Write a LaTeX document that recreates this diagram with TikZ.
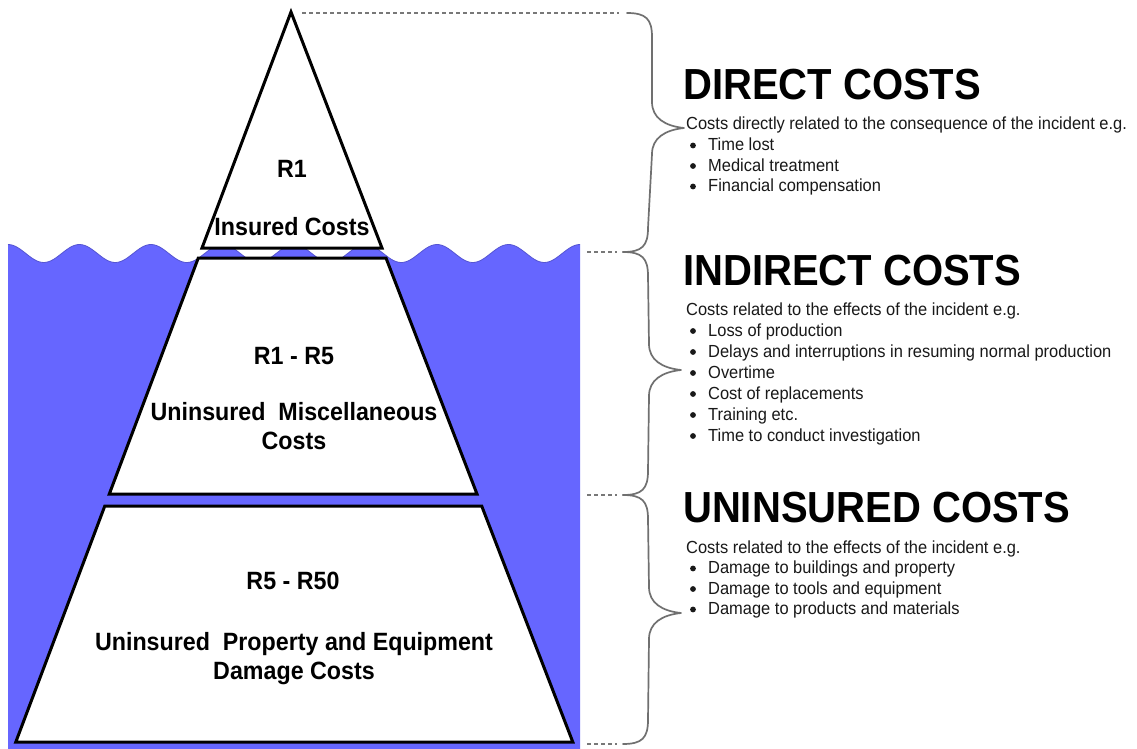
\documentclass[tikz,border=0pt]{standalone}
\usepackage{fontspec}
\setmainfont{Liberation Sans}
\newfontfamily\headfont[FakeStretch=0.92]{Liberation Sans}
\newfontfamily\bodyfont[FakeStretch=0.94]{Liberation Sans}
\newfontfamily\pyrfont[FakeStretch=0.93]{Liberation Sans}
\usetikzlibrary{calc}

\definecolor{sea}{RGB}{102,102,255}
\definecolor{seaedge}{RGB}{85,85,210}
\definecolor{bracegray}{RGB}{112,112,112}
\definecolor{guidegray}{RGB}{120,120,120}
\definecolor{bodyink}{RGB}{25,25,25}

% curly brace from #1 (top end) through #2 (tip) to #3 (bottom end)
\newcommand{\costbrace}[3]{%
  \draw[bracestyle] (#1) .. controls +(19,0) and +(0,-18) .. ($(#1)+(25,24)$)
    -- ($(#2)+(-32,-26)$) .. controls +(0,16) and +(-19,-2) .. (#2)
    .. controls +(-19,2) and +(0,-16) .. ($(#2)+(-32,26)$)
    -- ($(#3)+(25,-24)$) .. controls +(0,18) and +(19,0) .. (#3);}

% a list item: text node #1 at baseline point #2, with its round bullet
\newcommand{\costitem}[3]{%
  \node[body] (#1) at #2 {#3};
  \fill[bodyink] ($(#1.base west)+(-15,-5)$) circle (2.9pt);}

\begin{document}
\begin{tikzpicture}[x=1pt,y=-1pt,
  layerbox/.style={draw=black, fill=white, line width=3pt, line join=miter},
  pyr/.style={font=\pyrfont\fontsize{25}{29}\selectfont\bfseries, inner sep=0pt, anchor=base},
  head/.style={font=\headfont\fontsize{43.5}{48}\selectfont\bfseries, inner sep=0pt, anchor=base west},
  body/.style={font=\bodyfont\fontsize{17.5}{20}\selectfont, text=bodyink, inner sep=0pt,
    text height=12.5pt, text depth=3.5pt, anchor=base west},
  bracestyle/.style={draw=bracegray, line width=1.7pt, line cap=round, line join=round},
  guide/.style={draw=guidegray, line width=1.2pt, dash pattern=on 4pt off 3pt}]

\useasboundingbox (0,0) rectangle (1137,749);
\fill[white] (0,0) rectangle (1137,749);

% the sea with its wavy surface (wave period 71.5)
\fill[sea] (8,749) -- plot[domain=8:580, samples=240] (\x,{253.5-9*cos(5.035*(\x-8))}) -- (580,749) -- cycle;
\draw[seaedge, line width=0.8pt] plot[domain=8:580, samples=240] (\x,{253.5-9*cos(5.035*(\x-8))});

% the three layers of the iceberg
\coordinate (apex) at (291,12);
\draw[layerbox] (apex) -- (382,248) -- (202,248) -- cycle;
\draw[layerbox] (198.3,258) -- (386,258) -- (477,494) -- (109.3,494) -- cycle;
\draw[layerbox] (104.8,506) -- (481.7,506) -- (572.8,742) -- (15.8,742) -- cycle;

\node[pyr] (r1) at (292,177) {R1};
\node[pyr] (ins) at (292,235) {Insured Costs};
\node[pyr] (r15) at (294,364) {R1 - R5};
\node[pyr] (misc) at (294,420) {Uninsured~~Miscellaneous};
\node[pyr] (misc2) at (294,449) {Costs};
\node[pyr] (r550) at (293,589) {R5 - R50};
\node[pyr] (prop) at (294,650) {Uninsured~~Property and Equipment};
\node[pyr] (prop2) at (294,679) {Damage Costs};

% guide lines and braces
\coordinate (g0) at (302,13);
\coordinate (g1) at (587,252);
\coordinate (g2) at (587,495);
\coordinate (g3) at (587,744);
\coordinate (b0) at (627,13);
\coordinate (b1) at (623,252);
\coordinate (b2) at (623,495);
\coordinate (b3) at (623,744);
\coordinate (tipA) at (684,128);
\coordinate (tipB) at (681,370);
\coordinate (tipC) at (681,613);

\draw[guide] (g0) -- ($(b0)+(-8,0)$);
\draw[guide] (g1) -- ($(b1)+(-6,0)$);
\draw[guide] (g2) -- ($(b2)+(-6,0)$);
\draw[guide] (g3) -- ($(b3)+(-6,0)$);

\costbrace{b0}{tipA}{b1}
\costbrace{b1}{tipB}{b2}
\costbrace{b2}{tipC}{b3}

% direct costs
\node[head] (dh) at (683,100) {DIRECT COSTS};
\node[body] (d0) at (686,130) {Costs directly related to the consequence of the incident e.g.};
\foreach \t [count=\i] in {Time lost, Medical treatment, Financial compensation}
  {\costitem{d\i}{(708,{130+20.5*\i})}{\t}}

% indirect costs
\node[head] (ih) at (683,285) {INDIRECT COSTS};
\node[body] (i0) at (686,315) {Costs related to the effects of the incident e.g.};
\foreach \t [count=\i] in {Loss of production, Delays and interruptions in resuming normal production, Overtime, Cost of replacements, Training etc., Time to conduct investigation}
  {\costitem{i\i}{(708,{315+21*\i})}{\t}}

% uninsured costs
\node[head] (uh) at (683,522) {UNINSURED COSTS};
\node[body] (u0) at (686,553) {Costs related to the effects of the incident e.g.};
\foreach \t [count=\i] in {Damage to buildings and property, Damage to tools and equipment, Damage to products and materials}
  {\costitem{u\i}{(708,{553+20.5*\i})}{\t}}

\end{tikzpicture}
\end{document}
